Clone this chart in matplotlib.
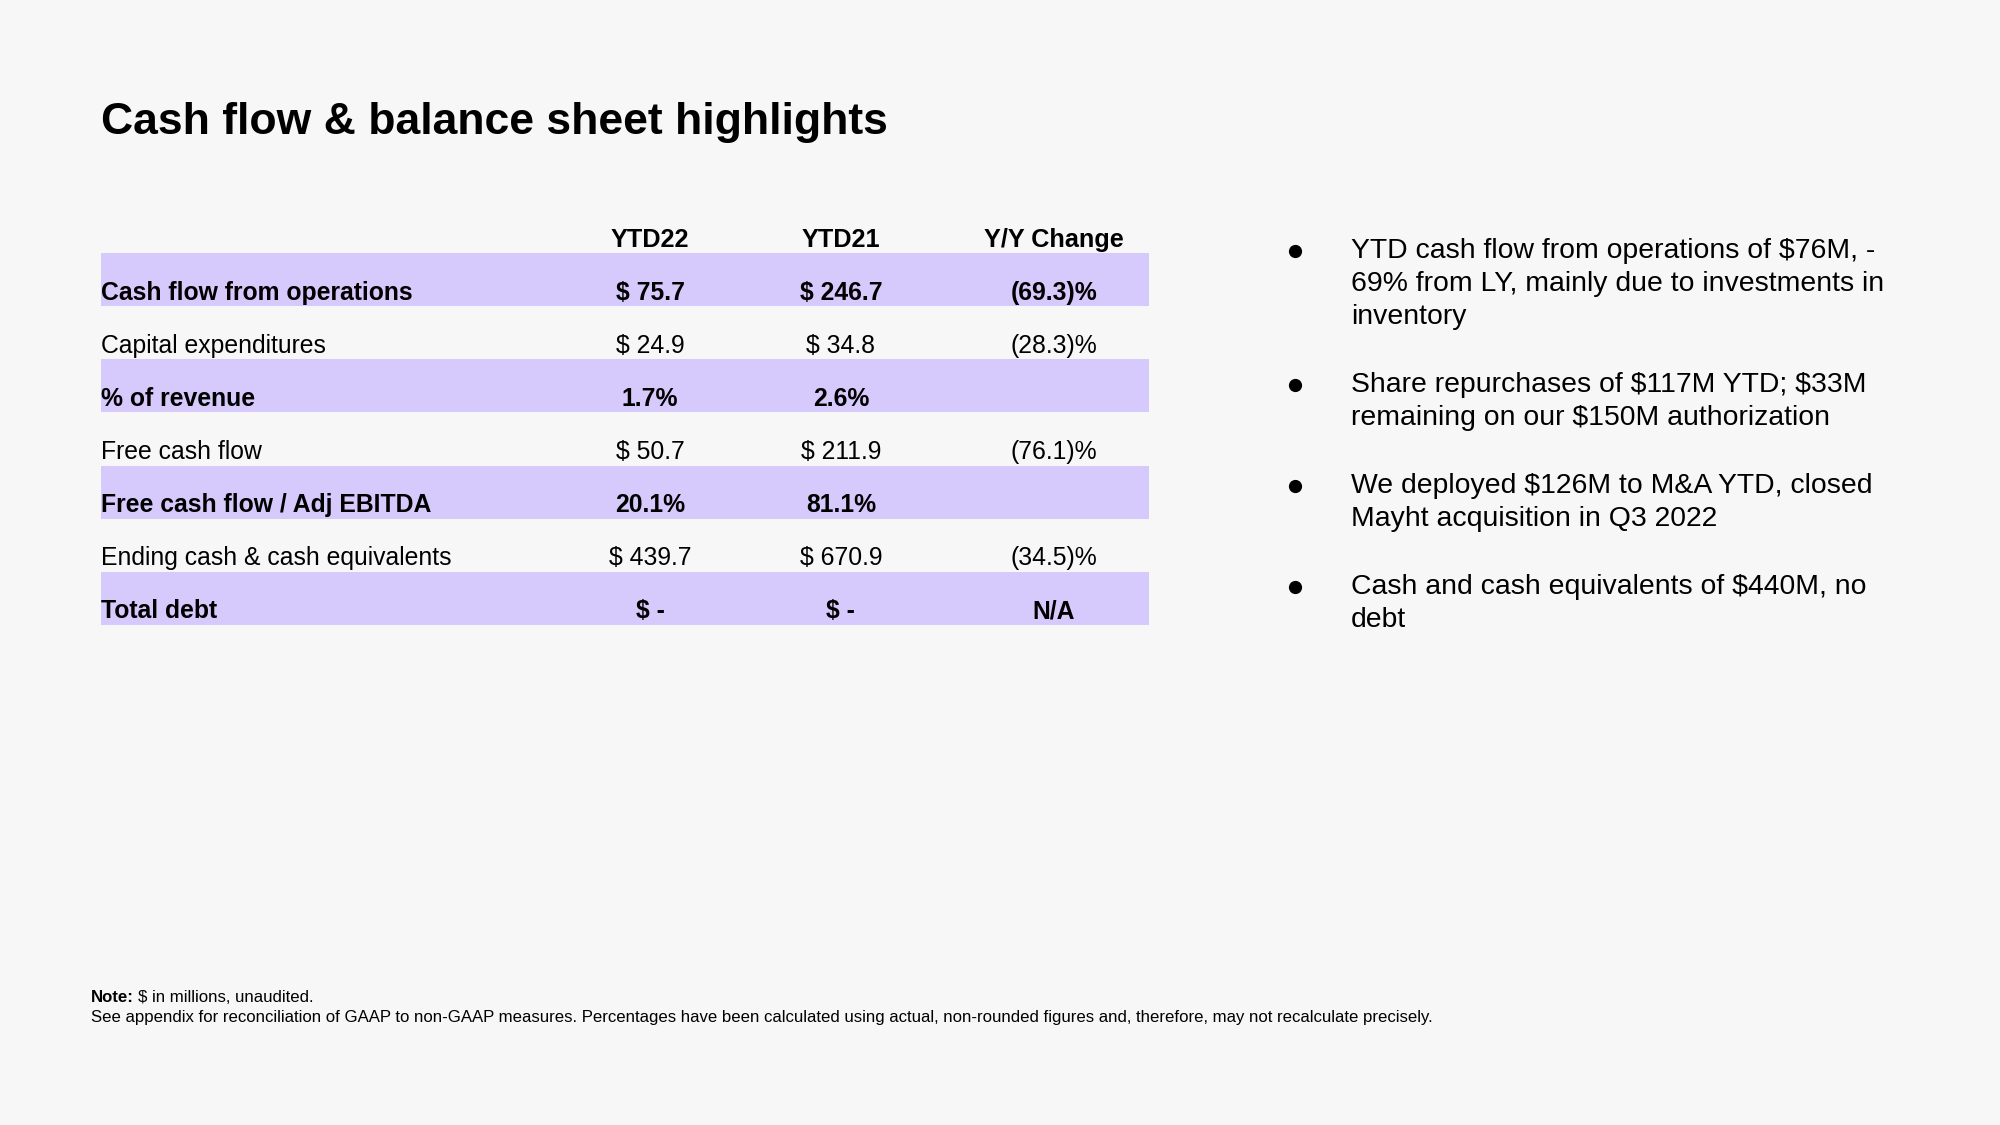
import matplotlib
matplotlib.use("Agg")
import matplotlib.pyplot as plt

# ---------------- data ----------------
title = "Cash flow & balance sheet highlights"
columns = ["YTD22", "YTD21", "Y/Y Change"]
row_labels = [
    "Cash flow from operations",
    "Capital expenditures",
    "% of revenue",
    "Free cash flow",
    "Free cash flow / Adj EBITDA",
    "Ending cash & cash equivalents",
    "Total debt",
]
ytd22 = ["$ 75.7", "$ 24.9", "1.7%", "$ 50.7", "20.1%", "$ 439.7", "$ -"]
ytd21 = ["$ 246.7", "$ 34.8", "2.6%", "$ 211.9", "81.1%", "$ 670.9", "$ -"]
yoy = ["(69.3)%", "(28.3)%", "", "(76.1)%", "", "(34.5)%", "N/A"]
highlighted = [True, False, True, False, True, False, True]

bullets = [
    ["YTD cash flow from operations of $76M, -",
     "69% from LY, mainly due to investments in",
     "inventory"],
    ["Share repurchases of $117M YTD; $33M",
     "remaining on our $150M authorization"],
    ["We deployed $126M to M&A YTD, closed",
     "Mayht acquisition in Q3 2022"],
    ["Cash and cash equivalents of $440M, no",
     "debt"],
]
note_bold = "Note:"
note_line1 = "$ in millions, unaudited."
note_line2 = ("See appendix for reconciliation of GAAP to non-GAAP measures. Percentages have been "
              "calculated using actual, non-rounded figures and, therefore, may not recalculate precisely.")

# ---------------- style ----------------
BG = "#F7F7F7"
BAND = "#D6C9FC"
TXT = "#000000"
FONT = ["Liberation Sans", "DejaVu Sans"]
plt.rcParams["font.family"] = FONT
plt.rcParams["text.parse_math"] = False

W, H = 2000, 1125
fig = plt.figure(figsize=(20, 11.25), dpi=100, facecolor=BG)

# overlay axes in pixel coordinates (y downward)
ov = fig.add_axes([0, 0, 1, 1])
ov.set_xlim(0, W)
ov.set_ylim(H, 0)
ov.axis("off")
ov.set_facecolor("none")

# title
ov.text(101, 134, title, fontsize=32, fontweight="bold", color=TXT, va="baseline", ha="left")

# ---------------- table ----------------
tx0, tx1 = 101, 1149
ty0, row_h = 200, 53.1
nrows = len(row_labels) + 1
tab = fig.add_axes([tx0 / W, 1 - (ty0 + nrows * row_h) / H, (tx1 - tx0) / W, nrows * row_h / H])
tab.set_xlim(0, 1)
tab.set_ylim(nrows, 0)
tab.axis("off")
tab.patch.set_alpha(0)

col_x = [0.524, 0.706, 0.909]
base_off = 6.5 / row_h  # baseline offset above row bottom
FS = 17.8

for j, c in enumerate(columns):
    tab.text(col_x[j], 1 - base_off, c, ha="center", va="baseline",
             fontsize=18.2, fontweight="bold", color=TXT)

band_rows = [i + 1 for i, h in enumerate(highlighted) if h]
tab.barh([r + 0.5 for r in band_rows], [1] * len(band_rows), left=0, height=1,
         color=BAND, edgecolor="none", zorder=0)

for i, lab in enumerate(row_labels):
    r = i + 1
    fw = "bold" if highlighted[i] else "normal"
    yb = r + 1 - base_off
    tab.text(0.0, yb, lab, ha="left", va="baseline", fontsize=FS, fontweight=fw, color=TXT)
    for j, vals in enumerate([ytd22, ytd21, yoy]):
        if vals[i]:
            tab.text(col_x[j], yb, vals[i], ha="center", va="baseline",
                     fontsize=FS, fontweight=fw, color=TXT)

# ---------------- bullets ----------------
bx_dot, bx_txt = 1295, 1351
line_gap, para_gap = 33, 68
y = 258
for para in bullets:
    ov.plot([bx_dot], [y - 7], marker="o", markersize=8.5, color=TXT, linestyle="none")
    for k, line in enumerate(para):
        ov.text(bx_txt, y, line, fontsize=20.4, color=TXT, ha="left", va="baseline")
        if k < len(para) - 1:
            y += line_gap
    y += para_gap

# ---------------- note ----------------
fig.canvas.draw()
r = fig.canvas.get_renderer()
t_note = ov.text(91, 1002, note_bold, fontsize=12.1, fontweight="bold", color=TXT,
                 ha="left", va="baseline")
bb = t_note.get_window_extent(renderer=r)
x_next = ov.transData.inverted().transform((bb.x1, bb.y0))[0] + 4
ov.text(x_next, 1002, note_line1, fontsize=12.1, color=TXT, ha="left", va="baseline")
ov.text(91, 1022, note_line2, fontsize=12.1, color=TXT, ha="left", va="baseline")

fig.savefig("out.png", dpi=100, facecolor=BG)
